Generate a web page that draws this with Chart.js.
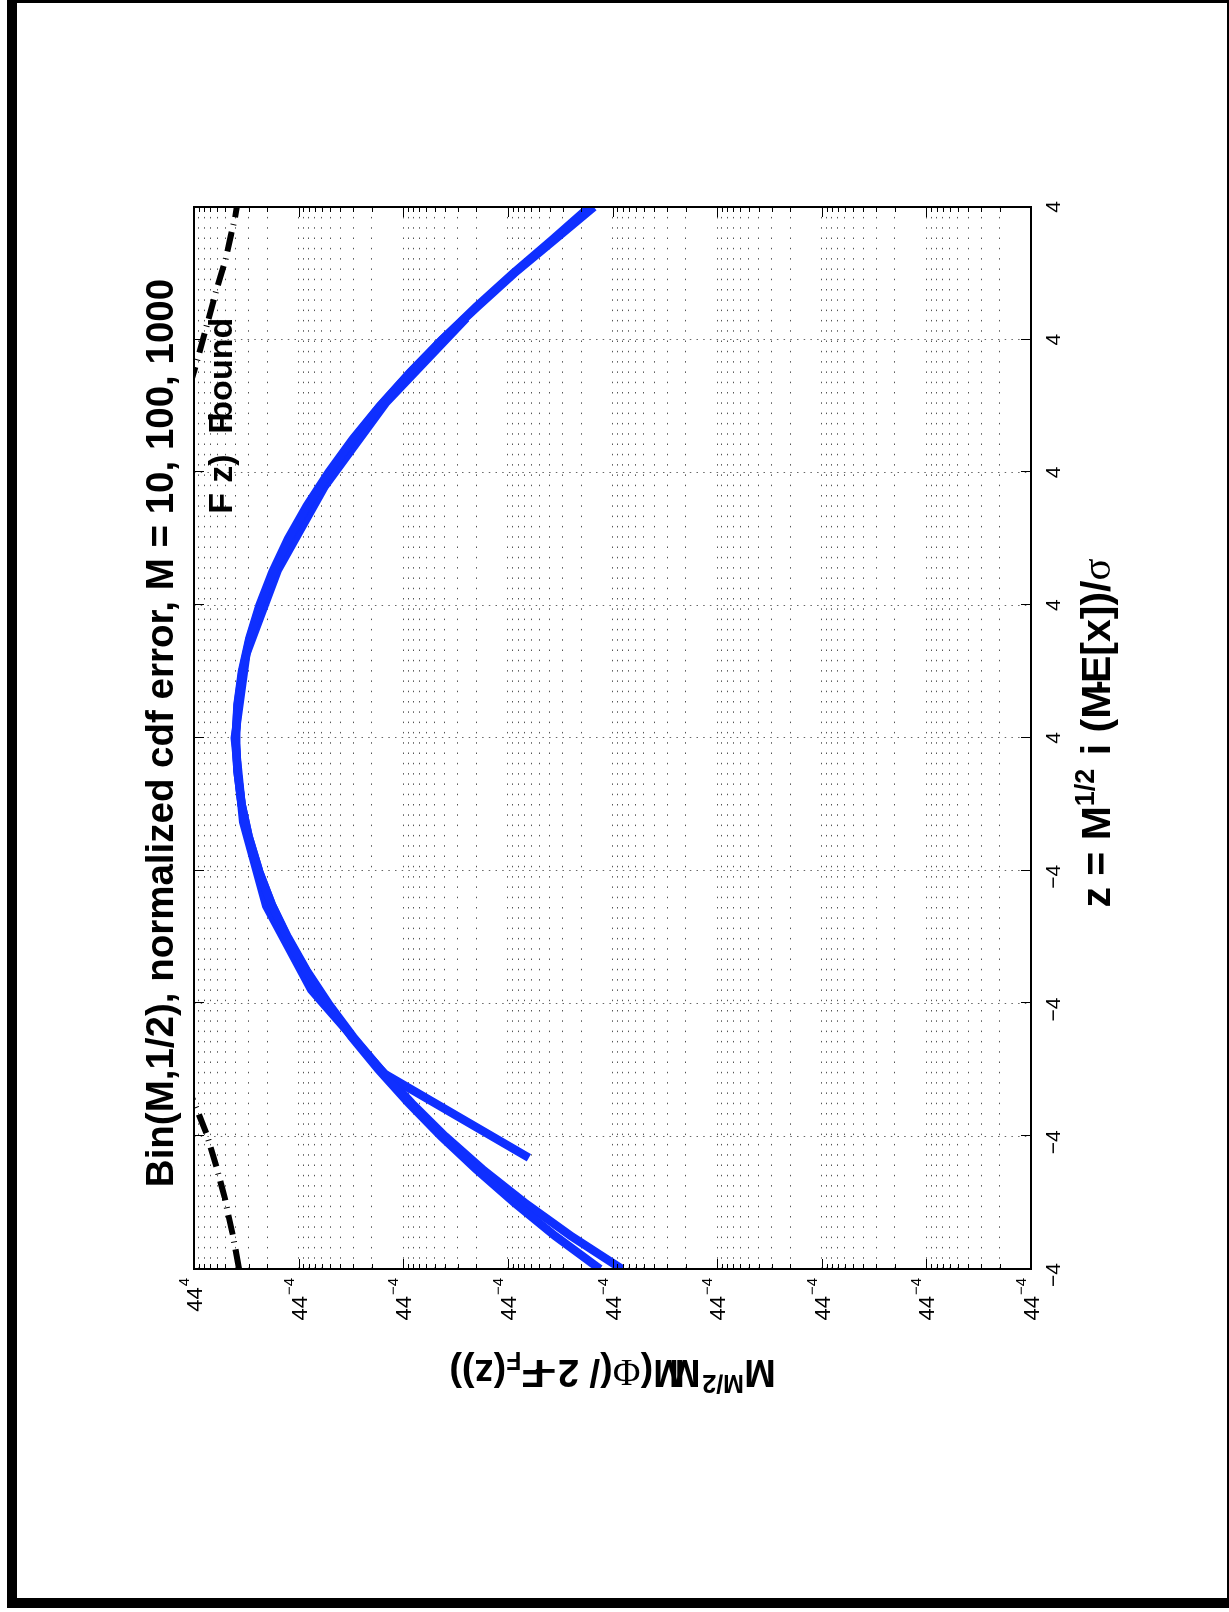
<!DOCTYPE html>
<html>
<head>
<meta charset="utf-8">
<title>Bin(M,1/2) normalized cdf error</title>
<script src="https://cdn.jsdelivr.net/npm/chart.js@4/dist/chart.umd.min.js"></script>
<style>
  html, body { margin: 0; padding: 0; background: #fff; overflow: hidden; }
  body { width: 1229px; height: 1612px; position: relative; }
  /* heavy page frame, slightly offset like the printed original */
  #frame { position: absolute; left: 7px; top: -7px; width: 1230px; height: 1615px;
           box-sizing: border-box; border: 10px solid #000; }
  /* the whole plot is laid out landscape and turned a quarter left */
  #turn { position: absolute; left: 0; top: 0; width: 1612px; height: 1229px;
          transform-origin: 0 0; transform: translate(0, 1612px) rotate(-90deg); }
</style>
</head>
<body>
<div id="frame"></div>
<div id="turn"><canvas id="cdfChart" width="1612" height="1229"></canvas></div>
<script>
// M = 10: one point per lattice value k = 0..10
const zM10 = [-3.162, -2.530, -1.897, -1.265, -0.632, 0, 0.632, 1.265, 1.897, 2.530, 3.162];
const errM10 = [6.31e-4, 0.0151, 0.0759, 0.204, 0.339, 0.407, 0.316, 0.158, 0.0562, 0.0145, 0.00251];

// M = 100 and M = 1000 read along z
const zGrid = [-4, -3.75, -3.5, -3.25, -3, -2.75, -2.5, -2.25, -2, -1.75, -1.5, -1.25, -1, -0.75, -0.5, -0.25,
               0, 0.25, 0.5, 0.75, 1, 1.25, 1.5, 1.75, 2, 2.25, 2.5, 2.75, 3, 3.25, 3.5, 3.75, 4];
const errM100 = [8.13e-5, 2.51e-4, 6.92e-4, 1.74e-3, 3.98e-3, 8.32e-3, 0.0164, 0.0302, 0.0519, 0.0841, 0.127,
                 0.182, 0.240, 0.299, 0.351, 0.385, 0.398, 0.382, 0.345, 0.292, 0.233, 0.174, 0.123, 0.0813,
                 0.0507, 0.0299, 0.0166, 8.61e-3, 4.27e-3, 2.00e-3, 8.91e-4, 3.80e-4, 1.66e-4];
const errM1000 = [1.32e-4, 3.55e-4, 8.71e-4, 2.00e-3, 4.37e-3, 8.91e-3, 0.0172, 0.0313, 0.0531, 0.0851, 0.129,
                  0.182, 0.240, 0.299, 0.351, 0.385, 0.398, 0.385, 0.348, 0.295, 0.237, 0.178, 0.126, 0.0832,
                  0.0519, 0.0305, 0.0168, 8.71e-3, 4.27e-3, 1.95e-3, 8.71e-4, 3.63e-4, 1.51e-4];

// bound curve, only the two tails come below 1
const zBoundLow = [-4, -3.73, -3.46, -3.23, -2.98, -2.76, -2.6];
const boundLow = [0.37, 0.43, 0.51, 0.61, 0.76, 0.98, 1.2];
const zBoundHigh = [2.65, 2.86, 3.15, 3.375, 3.60, 3.79, 3.92, 4.0];
const boundHigh = [1.1, 0.92, 0.73, 0.61, 0.50, 0.443, 0.405, 0.39];

// axis ticks and their (mangled) labels
const zTicks = [-4, -3, -2, -1, 0, 1, 2, 3, 4];
const zTickLabels = ['−4', '−4', '−4', '−4', '4', '4', '4', '4', '4'];
const errDecades = [1, 1e-1, 1e-2, 1e-3, 1e-4, 1e-5, 1e-6, 1e-7, 1e-8];
const errTickBase = ['44', '44', '44', '44', '44', '44', '44', '44', '44'];
const errTickExp = ['4', '−4', '−4', '−4', '−4', '−4', '−4', '−4', '−4'];

const BLUE = '#0f2fff';
const SANS = '"Liberation Sans", Arial, Helvetica, sans-serif';
const SERIF = '"Liberation Serif", "DejaVu Serif", serif';

function pts(xs, ys) {
    return xs.map((x, i) => ({ x: x, y: ys[i] }));
}

// lays a row of text pieces side by side, centred on cx
function drawRuns(ctx, runs, cx, baseY) {
    let total = 0;
    runs.forEach(r => {
        ctx.font = r.font;
        r.w = ctx.measureText(r.t).width;
        total += r.w + (r.dx || 0);
    });
    let px = cx - total / 2;
    runs.forEach(r => {
        px += r.dx || 0;
        ctx.font = r.font;
        ctx.fillText(r.t, px, baseY + (r.dy || 0));
        px += r.w;
    });
}

function isDecade(v) {
    const l = Math.log10(v);
    return Math.abs(l - Math.round(l)) < 1e-9;
}

// box, inward ticks on all four sides, and every piece of text
const axesDecor = {
    id: 'axesDecor',
    afterDraw(chart) {
        const { ctx, chartArea: a, scales: { x, y } } = chart;
        ctx.save();
        ctx.strokeStyle = '#000';
        ctx.fillStyle = '#000';

        ctx.lineWidth = 1;
        ctx.beginPath();
        y.ticks.forEach(t => {
            const py = Math.round(y.getPixelForValue(t.value)) + 0.5;
            const len = isDecade(t.value) ? 10 : 5;
            ctx.moveTo(a.left, py); ctx.lineTo(a.left + len, py);
            ctx.moveTo(a.right, py); ctx.lineTo(a.right - len, py);
        });
        zTicks.forEach(z => {
            const px = Math.round(x.getPixelForValue(z)) + 0.5;
            ctx.moveTo(px, a.top); ctx.lineTo(px, a.top + 10);
            ctx.moveTo(px, a.bottom); ctx.lineTo(px, a.bottom - 10);
        });
        ctx.stroke();

        ctx.lineWidth = 2;
        ctx.strokeRect(a.left, a.top, a.right - a.left, a.bottom - a.top);

        // log axis labels: base plus raised exponent
        ctx.textBaseline = 'alphabetic';
        errDecades.forEach((v, i) => {
            const py = y.getPixelForValue(v);
            ctx.font = '22px ' + SANS;
            const wb = ctx.measureText(errTickBase[i]).width;
            ctx.font = '15px ' + SANS;
            const we = ctx.measureText(errTickExp[i]).width;
            const start = a.left - 9 - wb - we - 1;
            ctx.font = '22px ' + SANS;
            ctx.fillText(errTickBase[i], start, py + 8);
            ctx.font = '15px ' + SANS;
            ctx.fillText(errTickExp[i], start + wb + 1, py - 5);
        });

        // z axis labels, the digit sits on the tick and the minus hangs left
        ctx.font = '21px ' + SANS;
        const w4 = ctx.measureText('4').width;
        zTicks.forEach((z, i) => {
            const px = x.getPixelForValue(z);
            const lab = zTickLabels[i];
            const digit = lab.slice(-1);
            ctx.fillText(digit, px - w4 / 2, a.bottom + 29);
            if (lab.length > 1) {
                const wm = ctx.measureText(lab[0]).width;
                ctx.fillText(lab[0], px - w4 / 2 - wm, a.bottom + 29);
            }
        });

        const midX = (a.left + a.right) / 2 + 5;
        const midY = (a.top + a.bottom) / 2;

        // title
        drawRuns(ctx, [{ t: 'Bin(M,1/2), normalized cdf error, M = 10, 100, 1000', font: 'bold 38.5px ' + SANS }],
            midX, a.top - 21);

        // z axis title
        drawRuns(ctx, [
            { t: 'z = M', font: 'bold 41px ' + SANS },
            { t: '1/2', font: 'bold 27px ' + SANS, dy: -16 },
            { t: ' i (M', font: 'bold 41px ' + SANS, dx: 2 },
            { t: '-', font: 'bold 41px ' + SANS, dx: -9 },
            { t: 'E[x])/', font: 'bold 41px ' + SANS, dx: -3 },
            { t: 'σ', font: '41px ' + SERIF }
        ], midX, a.bottom + 79);

        // error axis title, turned upwards
        ctx.save();
        ctx.translate(a.left - 91, midY);
        ctx.rotate(-Math.PI / 2);
        drawRuns(ctx, [
            { t: 'M', font: 'bold 38px ' + SANS },
            { t: 'M/2', font: 'bold 25px ' + SANS, dy: -15 },
            { t: 'M', font: 'bold 38px ' + SANS, dx: 2 },
            { t: 'M', font: 'bold 38px ' + SANS, dx: -16 },
            { t: '(', font: 'bold 38px ' + SANS },
            { t: 'Φ', font: '38px ' + SERIF },
            { t: '(/ 2', font: 'bold 38px ' + SANS },
            { t: '–', font: 'bold 38px ' + SANS, dx: 2 },
            { t: 'F', font: 'bold 38px ' + SANS, dx: -10 },
            { t: 'F', font: 'bold 25px ' + SANS, dy: 8 },
            { t: '(z))', font: 'bold 38px ' + SANS }
        ], 0, 0);
        ctx.restore();

        // in-plot note next to the bound curve
        ctx.font = 'bold 34px ' + SANS;
        const noteX = x.getPixelForValue(1.69);
        const noteY = a.top + 38;
        ctx.fillText('F', noteX, noteY);
        ctx.fillText('z)', noteX + 31, noteY);
        ctx.fillText('F', noteX + 80, noteY);
        ctx.fillText('bound', noteX + 92, noteY);

        ctx.restore();
    }
};

function buildChart() {
    const ctx = document.getElementById('cdfChart').getContext('2d');
    const blueLine = {
        borderColor: BLUE,
        borderWidth: 8.5,
        pointRadius: 0,
        tension: 0,
        fill: false,
        clip: 0,
        borderJoinStyle: 'miter',
        borderCapStyle: 'butt'
    };

    const boundPts = pts(zBoundLow, boundLow).concat([{ x: 0, y: null }], pts(zBoundHigh, boundHigh));

    new Chart(ctx, {
        type: 'line',
        data: {
            datasets: [
                Object.assign({ label: 'M = 1000', data: pts(zGrid, errM1000) }, blueLine),
                Object.assign({ label: 'M = 100', data: pts(zGrid, errM100) }, blueLine),
                Object.assign({ label: 'M = 10', data: pts(zM10, errM10) }, blueLine),
                {
                    label: 'bound',
                    data: boundPts,
                    borderColor: '#000',
                    borderWidth: 6,
                    borderDash: [20, 7, 1, 7],
                    borderCapStyle: 'butt',
                    pointRadius: 0,
                    tension: 0,
                    spanGaps: false,
                    clip: 0
                }
            ]
        },
        options: {
            responsive: false,
            animation: false,
            events: [],
            layout: { padding: { left: 343, right: 207, top: 194, bottom: 198 } },
            plugins: {
                legend: { display: false },
                tooltip: { enabled: false },
                title: { display: false }
            },
            scales: {
                x: {
                    type: 'linear',
                    min: -4,
                    max: 4,
                    ticks: { display: false, stepSize: 1 },
                    grid: { color: '#666', lineWidth: 1, drawTicks: false },
                    border: { display: false, dash: [1.5, 5.2] }
                },
                y: {
                    type: 'logarithmic',
                    min: 1e-8,
                    max: 1,
                    ticks: { display: false },
                    grid: { color: '#555', lineWidth: 1, drawTicks: false },
                    border: { display: false, dash: [1.5, 8.8] },
                    afterBuildTicks(scale) {
                        // every 1..9 step of each decade gets a grid line
                        const ticks = [];
                        for (let e = -8; e <= 0; e++) {
                            for (let m = 1; m <= 9; m++) {
                                if (e === 0 && m > 1) break;
                                ticks.push({ value: m * Math.pow(10, e) });
                            }
                        }
                        scale.ticks = ticks;
                    }
                }
            }
        },
        plugins: [axesDecor]
    });
}

document.addEventListener('DOMContentLoaded', buildChart);
</script>
</body>
</html>
